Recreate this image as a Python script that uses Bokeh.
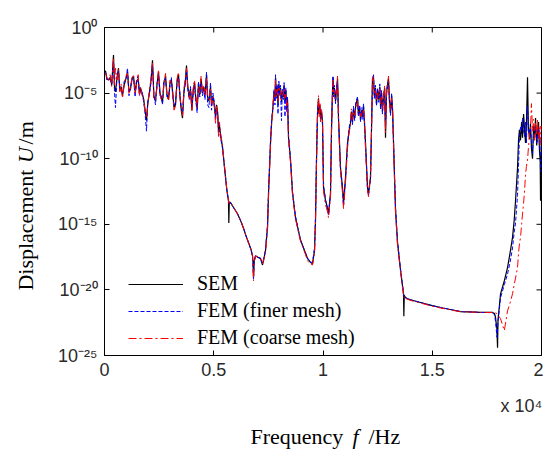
import numpy as np
from bokeh.plotting import figure
from bokeh.layouts import column, row
from bokeh.models import Range1d, FixedTicker, CustomJSTickFormatter
from bokeh.core.properties import value
from bokeh.embed import file_html
from bokeh.resources import INLINE

# ---- data: frequency (Hz) and log10 of displacement (m) ----
freq_r1 = [0, 46, 110, 183, 260, 330, 412, 460, 503, 570,
           641, 700, 760, 824, 900, 980, 1053, 1120, 1190, 1260,
           1327, 1400, 1465, 1540, 1600, 1648, 1720, 1785, 1850, 1922,
           1980, 2060, 2130, 2197, 2260, 2334, 2400, 2472, 2540, 2600,
           2655, 2720, 2792, 2860, 2929, 3000, 3060, 3112, 3180, 3250,
           3320, 3387, 3450, 3520, 3570, 3640, 3700, 3753, 3810, 3880,
           3936, 4000, 4060, 4119, 4180, 4240, 4302, 4360, 4420, 4485,
           4540, 4600, 4669, 4720, 4780, 4852, 4900, 4960, 5035, 5080,
           5130, 5180]
sem_r1 = [-3.4, -3.3, -3.9, -4.0, -3.8, -4.4, -2.1, -4.6, -4.9, -3.9,
          -3.1, -4.8, -4.5, -5.2, -4.4, -3.9, -3.4, -4.9, -4.7, -3.9,
          -3.7, -4.9, -4.2, -3.9, -5.0, -4.6, -5.0, -5.4, -6.2, -7.1,
          -5.8, -4.9, -4.0, -2.5, -5.3, -5.6, -4.4, -3.4, -5.0, -5.4,
          -5.7, -4.2, -3.7, -5.1, -5.5, -4.2, -4.0, -4.8, -6.1, -5.9,
          -4.1, -3.6, -5.2, -6.4, -6.9, -4.8, -4.1, -2.9, -4.5, -5.3,
          -4.7, -6.3, -4.8, -4.2, -5.4, -6.2, -4.3, -5.1, -3.9, -5.0,
          -4.5, -5.2, -3.6, -5.3, -5.6, -4.5, -5.9, -5.2, -6.0, -6.8,
          -5.9, -6.5]
fine_r1 = [-3.5, -3.4, -4.0, -3.9, -4.0, -4.3, -2.6, -5.0, -6.1, -3.8,
           -3.3, -4.7, -4.9, -5.0, -4.1, -4.0, -3.1, -5.2, -4.5, -4.0,
           -3.8, -5.3, -4.0, -3.7, -5.2, -4.8, -4.9, -5.6, -6.4, -7.9,
           -5.6, -5.0, -4.2, -2.8, -5.1, -5.9, -4.3, -3.6, -5.2, -5.2,
           -5.9, -4.0, -3.9, -5.3, -5.3, -4.4, -3.8, -5.0, -6.0, -5.7,
           -4.3, -3.8, -5.0, -6.2, -6.5, -4.9, -4.3, -3.2, -4.7, -5.5,
           -4.5, -6.0, -5.0, -4.4, -5.6, -6.5, -4.1, -5.3, -4.2, -5.2,
           -4.7, -5.5, -3.4, -5.9, -6.1, -4.2, -6.3, -5.0, -5.8, -7.0,
           -6.1, -6.8]
coarse_r1 = [-3.4, -3.5, -3.8, -4.1, -3.6, -4.5, -2.3, -4.4, -3.1, -4.0,
             -3.2, -4.9, -4.3, -5.4, -4.3, -3.7, -3.5, -5.0, -4.6, -3.8,
             -3.6, -5.1, -4.4, -3.6, -5.1, -4.5, -5.2, -5.3, -6.3, -6.9,
             -5.9, -4.7, -3.9, -2.7, -5.4, -5.5, -4.6, -3.2, -5.1, -5.5,
             -5.5, -4.3, -3.5, -5.2, -5.6, -4.0, -4.2, -4.7, -6.3, -6.0,
             -3.9, -3.4, -5.3, -6.2, -6.7, -4.6, -3.8, -3.1, -4.4, -5.4,
             -4.8, -6.4, -4.6, -4.0, -5.3, -6.1, -4.5, -5.0, -3.7, -4.9,
             -4.4, -5.1, -3.9, -5.2, -5.5, -4.7, -5.8, -5.3, -6.2, -7.3,
             -6.0, -6.6]

freq_r2 = [5218, 5260, 5310, 5401, 5470, 5538, 5600, 5675, 5690, 5710,
           5767, 5900, 6087, 6250, 6362, 6480, 6591, 6700, 6774, 6800,
           6820, 6850, 6911, 7000, 7140, 7232, 7300, 7369, 7461, 7506,
           7598, 7650]
sem_r2 = [-8.0, -7.4, -8.2, -9.1, -10.3, -11.4, -12.4, -13.2, -14.9, -13.3,
          -13.35, -13.7, -14.2, -14.8, -15.3, -15.9, -16.4, -16.9, -17.4, -18.0,
          -19.0, -17.8, -17.4, -17.5, -17.6, -18.1, -17.6, -17.0, -15.2, -12.7,
          -8.8, -7.2]
fine_r2 = [-7.6, -7.8, -8.4, -9.2, -10.3, -11.4, -12.4, -13.2, -13.4, -13.3,
           -13.35, -13.7, -14.2, -14.8, -15.3, -15.9, -16.4, -16.9, -17.4, -18.3,
           -19.2, -17.8, -17.4, -17.5, -17.6, -18.0, -17.5, -16.9, -15.0, -12.5,
           -8.6, -7.0]
coarse_r2 = [-8.3, -7.2, -8.0, -9.0, -10.2, -11.3, -12.4, -13.2, -13.4, -13.3,
             -13.35, -13.7, -14.2, -14.8, -15.3, -15.9, -16.4, -16.9, -17.4, -18.4,
             -19.3, -17.9, -17.4, -17.5, -17.6, -18.0, -17.6, -17.1, -15.4, -12.9,
             -9.0, -7.3]

freq_r3 = [7689, 7720, 7760, 7800, 7827, 7860, 7900, 7940, 7980, 8020,
           8055, 8100, 8140, 8180, 8220, 8260, 8300, 8340, 8376, 8422,
           8513, 8605, 8742, 8971, 9200, 9291, 9429, 9520, 9612, 9657,
           9703]
sem_r3 = [-6.5, -5.8, -4.9, -5.6, -3.8, -5.2, -4.5, -5.9, -4.3, -5.0,
          -4.6, -5.7, -4.9, -5.3, -4.4, -5.6, -4.8, -6.2, -5.5, -8.4,
          -10.1, -12.6, -14.5, -16.2, -17.2, -17.6, -17.9, -18.0, -17.0, -14.7,
          -10.1]
fine_r3 = [-6.3, -6.0, -4.7, -5.9, -3.6, -5.4, -4.3, -6.6, -4.1, -5.2,
           -4.4, -7.1, -4.7, -5.5, -4.2, -6.8, -4.6, -6.4, -5.3, -8.2,
           -10.0, -12.5, -14.4, -16.2, -17.2, -17.6, -17.9, -17.9, -16.8, -14.5,
           -9.8]
coarse_r3 = [-6.7, -5.6, -5.1, -5.4, -4.0, -5.0, -4.7, -5.7, -4.5, -4.8,
             -4.8, -5.5, -5.1, -5.1, -4.6, -5.4, -5.0, -6.0, -5.7, -8.6,
             -10.3, -12.8, -14.6, -16.3, -17.3, -17.8, -18.0, -18.1, -17.2, -14.9,
             -10.4]

freq_r4 = [9749, 9770, 9795, 9820, 9860, 9886, 9930, 9978, 10024, 10115,
           10200, 10252, 10344, 10390, 10436, 10460, 10481, 10520, 10573, 10610,
           10664, 10690, 10710, 10802, 10893, 10939, 11031, 11122, 11200, 11259,
           11300, 11350, 11397, 11450, 11500, 11580, 11620, 11680, 11717, 11780,
           11820, 11854, 11900, 11946, 12038, 12083, 12175, 12221]
sem_r4 = [-6.6, -6.0, -5.4, -6.6, -5.9, -7.0, -6.4, -7.2, -12.2, -13.2,
          -13.7, -14.2, -12.6, -7.6, -4.8, -3.8, -5.1, -4.6, -5.6, -4.9,
          -3.9, -5.4, -6.9, -10.7, -12.2, -13.4, -11.4, -8.8, -7.8, -7.3,
          -6.4, -7.2, -6.2, -6.9, -5.9, -5.4, -6.6, -6.1, -7.0, -6.3,
          -6.8, -6.0, -7.3, -8.8, -12.2, -12.65, -11.4, -7.6]
fine_r4 = [-6.4, -5.8, -5.6, -6.4, -6.1, -6.8, -6.6, -7.4, -12.0, -13.1,
           -13.8, -14.3, -12.8, -7.8, -4.6, -3.7, -5.3, -4.4, -5.8, -4.7,
           -4.1, -5.6, -7.1, -10.9, -12.4, -13.6, -11.6, -9.0, -7.6, -7.1,
           -6.6, -7.4, -6.0, -7.1, -5.7, -5.3, -6.8, -5.9, -7.2, -6.1,
           -7.0, -5.8, -7.5, -9.0, -12.4, -12.8, -11.6, -7.8]
coarse_r4 = [-6.8, -6.2, -5.2, -6.8, -5.7, -7.2, -6.2, -7.0, -12.5, -13.5,
             -14.0, -14.5, -12.9, -8.0, -5.0, -4.0, -4.9, -4.8, -5.4, -5.1,
             -3.7, -5.2, -7.2, -11.0, -12.6, -13.8, -11.8, -9.2, -7.9, -7.5,
             -6.2, -7.0, -6.4, -6.7, -6.1, -5.6, -6.4, -6.3, -6.8, -6.5,
             -6.6, -6.2, -7.1, -9.2, -12.4, -12.9, -11.2, -7.9]

freq_r5 = [12266, 12312, 12350, 12400, 12449, 12500, 12550, 12600, 12633, 12680,
           12720, 12770, 12820, 12861, 12907, 12950, 12999, 13040, 13090, 13140,
           13182, 13228, 13273, 13319, 13411, 13548, 13685, 13700, 13720, 13777,
           14000, 14463, 15000, 15379, 16000, 16294, 17000, 17210, 17500, 17759,
           17850, 17896, 17960, 17988, 18010, 18125, 18300, 18445, 18560, 18674,
           18750, 18811, 18903]
sem_r5 = [-3.9, -3.8, -5.2, -4.6, -5.8, -4.8, -5.5, -4.5, -6.0, -5.0,
          -6.4, -5.3, -4.6, -8.4, -5.0, -4.4, -3.9, -5.6, -6.5, -5.2,
          -6.2, -8.8, -11.4, -13.9, -16.4, -18.5, -20.3, -22.0, -20.4, -20.6,
          -20.75, -20.96, -21.2, -21.34, -21.55, -21.65, -21.7, -21.72, -21.72, -21.72,
          -21.8, -22.1, -23.0, -24.4, -22.3, -20.3, -19.3, -18.3, -17.2, -16.0,
          -14.7, -13.2, -10.7]
fine_r5 = [-4.1, -3.6, -5.4, -4.4, -6.0, -4.6, -5.7, -4.3, -6.2, -4.8,
           -6.6, -5.1, -4.8, -7.6, -5.2, -4.2, -4.1, -5.4, -6.7, -5.0,
           -6.4, -8.6, -11.2, -13.7, -16.3, -18.4, -20.2, -20.5, -20.45, -20.6,
           -20.75, -20.96, -21.2, -21.34, -21.55, -21.65, -21.7, -21.72, -21.72, -21.75,
           -21.9, -22.4, -23.6, -22.9, -22.4, -20.6, -19.6, -18.8, -17.9, -16.8,
           -15.6, -14.9, -12.8]
coarse_r5 = [-3.7, -4.0, -5.0, -4.8, -5.6, -5.0, -5.3, -4.7, -5.8, -5.2,
             -6.2, -5.5, -4.4, -8.0, -4.8, -4.6, -3.7, -5.8, -6.3, -5.4,
             -6.0, -9.0, -11.6, -14.1, -16.6, -18.6, -20.4, -20.6, -20.5, -20.65,
             -20.8, -21.0, -21.25, -21.38, -21.58, -21.66, -21.7, -21.72, -21.72, -21.72,
             -21.72, -21.75, -21.8, -21.85, -21.9, -22.2, -23.1, -21.6, -21.0, -20.3,
             -19.6, -19.1, -18.3]

freq_r6 = [18949, 18990, 19040, 19090, 19132, 19180, 19230, 19269, 19310, 19360,
           19400, 19450, 19498, 19540, 19590, 19635, 19680, 19727, 19780, 19820,
           19864, 19910, 19940, 19956, 19975, 20000]
sem_r6 = [-8.6, -7.8, -8.6, -7.2, -8.4, -6.6, -7.9, -8.8, -7.4, -3.8,
          -7.6, -8.5, -7.3, -9.2, -10.0, -7.5, -8.4, -6.9, -9.0, -8.0,
          -7.2, -9.5, -10.1, -13.2, -10.4, -8.5]
fine_r6 = [-10.5, -8.4, -7.6, -7.8, -6.9, -7.9, -8.3, -7.2, -8.8, -6.0,
           -7.9, -8.1, -7.6, -8.7, -9.6, -8.2, -7.8, -7.4, -8.8, -8.6,
           -7.6, -9.0, -9.7, -11.0, -9.6, -8.2]
coarse_r6 = [-17.2, -16.5, -16.0, -15.0, -14.2, -13.4, -12.3, -11.2, -10.6, -10.1,
             -9.2, -8.2, -7.6, -5.8, -7.9, -7.0, -8.6, -7.3, -8.2, -7.0,
             -8.5, -7.6, -9.0, -8.2, -7.5, -8.0]

x_ticks = [0, 5000, 10000, 15000, 20000]
y_ticks = [1e-25, 1e-20, 1e-15, 1e-10, 1e-5, 1e0]
series_names = ["SEM", "FEM (finer mesh)", "FEM (coarse mesh)"]
xlabel_parts = ["Frequency", "f", "/Hz"]
ylabel_parts = ["Displacement", "U", "/m"]
x_multiplier = "x 10\u2074"

freq = freq_r1 + freq_r2 + freq_r3 + freq_r4 + freq_r5 + freq_r6
sem = sem_r1 + sem_r2 + sem_r3 + sem_r4 + sem_r5 + sem_r6
fine = fine_r1 + fine_r2 + fine_r3 + fine_r4 + fine_r5 + fine_r6
coarse = coarse_r1 + coarse_r2 + coarse_r3 + coarse_r4 + coarse_r5 + coarse_r6
assert len(freq) == len(sem) == len(fine) == len(coarse), (len(freq), len(sem), len(fine), len(coarse))

f = np.array(freq, dtype=float)
u_sem = 10.0 ** np.array(sem)
u_fine = 10.0 ** np.array(fine)
u_coarse = 10.0 ** np.array(coarse)

X_MIN, X_MAX = 0, 20000
Y_MIN, Y_MAX = 1e-25, 1.0
SERIF = "Liberation Serif"
SANS = "Liberation Sans"

# ---------------- main chart ----------------
p = figure(width=498, height=390, y_axis_type="log", title=None,
           x_range=Range1d(X_MIN, X_MAX), y_range=Range1d(Y_MIN, Y_MAX),
           output_backend="svg", toolbar_location=None,
           min_border_left=59, min_border_right=2, min_border_top=27,
           min_border_bottom=35)
p.background_fill_color = "white"
p.border_fill_color = "white"
p.outline_line_color = "black"
p.outline_line_width = 1
p.xgrid.visible = False
p.ygrid.visible = False

p.line(f, u_sem, line_color="black", line_width=1.2, legend_label=series_names[0])
p.line(f, u_fine, line_color="#0000ff", line_width=1.0, line_dash="4 2",
       legend_label=series_names[1])
p.line(f, u_coarse, line_color="#ff0000", line_width=1.0, line_dash="8 3 2 3",
       legend_label=series_names[2])

# inner tick marks on the right and top edges of the box
p.ray(x=[X_MAX] * len(y_ticks), y=y_ticks, length=5, length_units="screen",
      angle=np.pi, line_color="black", line_width=1)
p.ray(x=x_ticks, y=[Y_MAX] * len(x_ticks), length=5, length_units="screen",
      angle=-np.pi / 2, line_color="black", line_width=1)

sup_code = r"""
const e = Math.round(Math.log10(tick));
const m = {'-':'\u207B','0':'\u2070','1':'\u00B9','2':'\u00B2','3':'\u00B3','4':'\u2074','5':'\u2075','6':'\u2076','7':'\u2077','8':'\u2078','9':'\u2079'};
return '10' + String(e).split('').map(c => m[c]).join('');
"""


def style_axis(ax):
    ax.axis_line_color = "black"
    ax.major_tick_in = 5
    ax.major_tick_out = 0
    ax.minor_tick_in = 0
    ax.minor_tick_out = 0
    ax.major_tick_line_color = "black"
    ax.major_label_text_font = SANS
    ax.major_label_text_font_size = "18px"
    ax.major_label_text_color = "#2a2a2a"


yax = p.yaxis[0]
yax.ticker = FixedTicker(ticks=y_ticks)
yax.formatter = CustomJSTickFormatter(code=sup_code)
style_axis(yax)
yax.major_label_standoff = 7

xax = p.xaxis[0]
xax.ticker = FixedTicker(ticks=x_ticks)
xax.formatter = CustomJSTickFormatter(code="return (tick/1e4).toString();")
style_axis(xax)
xax.major_label_standoff = 7

lg = p.legend[0]
lg.location = (24, 6)
lg.background_fill_alpha = 0
lg.border_line_color = None
lg.label_text_font = SERIF
lg.label_text_font_size = "20px"
lg.label_text_color = "black"
lg.glyph_width = 55
lg.glyph_height = 22
lg.label_height = 22
lg.spacing = 4
lg.padding = 0
lg.margin = 0
lg.label_standoff = 14


def text_panel(w, h):
    fig = figure(width=w, height=h, title=None,
                 x_range=Range1d(0, w), y_range=Range1d(0, h),
                 output_backend="svg", toolbar_location=None,
                 x_axis_location=None, y_axis_location=None,
                 min_border=0, outline_line_color=None)
    fig.xgrid.visible = False
    fig.ygrid.visible = False
    fig.background_fill_color = "white"
    fig.border_fill_color = "white"
    return fig


# ---------------- y-axis title panel (pixel coordinates, origin bottom-left) ----------------
py = text_panel(45, 390)
for txt, yy, sty, al in [(ylabel_parts[0], 221, "normal", "right"),
                         (ylabel_parts[1], 229, "italic", "left"),
                         (ylabel_parts[2], 251, "normal", "left")]:
    py.text(x=[25], y=[yy], text=[txt], angle=np.pi / 2, text_font=value(SERIF),
            text_font_style=sty, text_font_size="22px", text_color="black",
            text_align=al, text_baseline="alphabetic")

# ---------------- x-axis title panel (pixel coordinates, origin bottom-left) ----------------
px = text_panel(543, 60)
for txt, xx, sty in [(xlabel_parts[0], 250, "normal"), (xlabel_parts[1], 352, "italic"),
                     (xlabel_parts[2], 368, "normal")]:
    px.text(x=[xx], y=[14], text=[txt], text_font=value(SERIF), text_font_style=sty,
            text_font_size="22px", text_color="black", text_align="left",
            text_baseline="alphabetic")
px.text(x=[500], y=[45], text=[x_multiplier], text_font=value(SANS),
        text_font_size="18px", text_color="#2a2a2a", text_align="left",
        text_baseline="alphabetic")

layout = column(row(py, p, spacing=0), px, spacing=0)

with open("out.html", "w", encoding="utf-8") as fh:
    fh.write(file_html(layout, INLINE))
